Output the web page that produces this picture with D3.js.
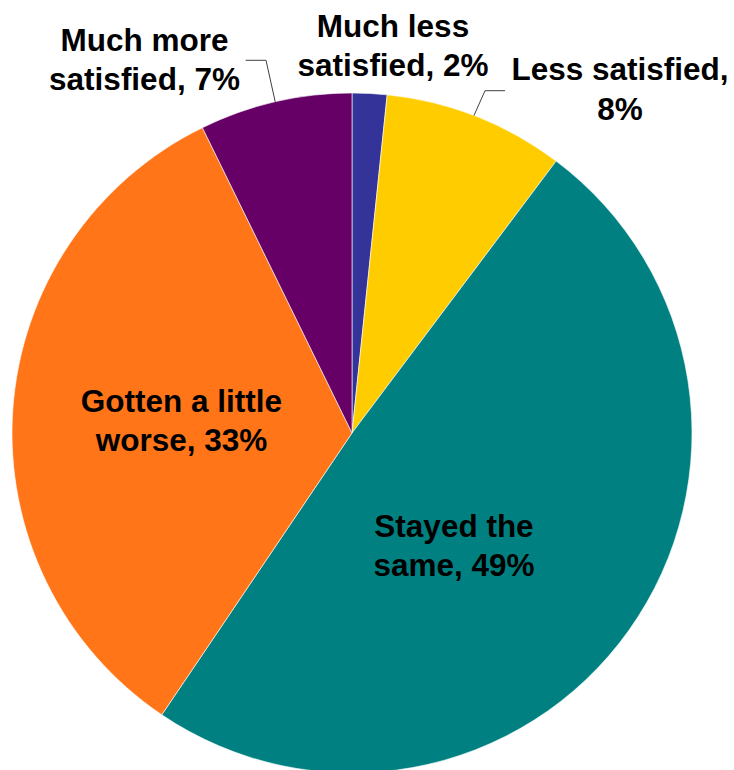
<!DOCTYPE html>
<html>
<head>
<meta charset="utf-8">
<script src="https://cdn.jsdelivr.net/npm/d3@7"></script>
<style>
  html, body { margin: 0; padding: 0; background: #fff; }
  svg { display: block; }
  text { font-family: "Liberation Sans", Arial, sans-serif; font-weight: bold; fill: #000; }
</style>
</head>
<body>
<script>
const categories = ["Much less satisfied", "Less satisfied", "Stayed the same", "Gotten a little worse", "Much more satisfied"];
const values = [1.65, 8.6, 49.2, 33.3, 7.25];
const labelLines = [
  ["Much less", "satisfied, 2%"],
  ["Less satisfied,", "8%"],
  ["Stayed the", "same, 49%"],
  ["Gotten a little", "worse, 33%"],
  ["Much more", "satisfied, 7%"]
];
const colors = ["#333399", "#FFCC00", "#008080", "#FF7518", "#660066"];

const W = 734, H = 770;
const cx = 352, cy = 433, R = 340;
const fontSize = 31.5, lineGap = 39.5;

const svg = d3.select("body").append("svg").attr("width", W).attr("height", H);
const g = svg.append("g").attr("transform", `translate(${cx},${cy})`);

const data = categories.map((c, i) => ({ name: c, value: values[i], lines: labelLines[i], color: colors[i] }));
const pie = d3.pie().value(d => d.value).sort(null);
const arcs = pie(data);
const arc = d3.arc().innerRadius(0).outerRadius(R);

g.selectAll("path.slice").data(arcs).enter().append("path")
  .attr("class", "slice")
  .attr("d", arc)
  .attr("fill", d => d.data.color)
  .attr("stroke", "#fff")
  .attr("stroke-width", 0.6);

// label positions: centre x, first baseline y
const labelPos = [
  [393, 36.7], [620, 80], [454, 536.7], [181.5, 411.7], [144.5, 50.7]
];

const lab = svg.append("g");
arcs.forEach((a, i) => {
  const t = lab.append("text")
    .attr("text-anchor", "middle")
    .attr("font-size", fontSize);
  a.data.lines.forEach((ln, k) => {
    t.append("tspan").attr("x", labelPos[i][0]).attr("y", labelPos[i][1] + k * lineGap).text(ln);
  });
});

// leader lines for small outer slices
function edgePoint(angle, rr) {
  return [cx + rr * Math.sin(angle), cy - rr * Math.cos(angle)];
}
const leaders = [
  { i: 1, frac: 0.487, elbow: [485, 90.7], end: [505, 90.7] },
  { i: 4, frac: 0.50, elbow: [266, 60.3], end: [245.7, 60.3] }
];
leaders.forEach(L => {
  const a = arcs[L.i];
  const ang = a.startAngle + (a.endAngle - a.startAngle) * L.frac;
  const p = edgePoint(ang, R);
  svg.append("polyline")
    .attr("points", [p, L.elbow, L.end].map(q => q.join(",")).join(" "))
    .attr("fill", "none")
    .attr("stroke", "#404040")
    .attr("stroke-width", 1);
});
</script>
</body>
</html>
